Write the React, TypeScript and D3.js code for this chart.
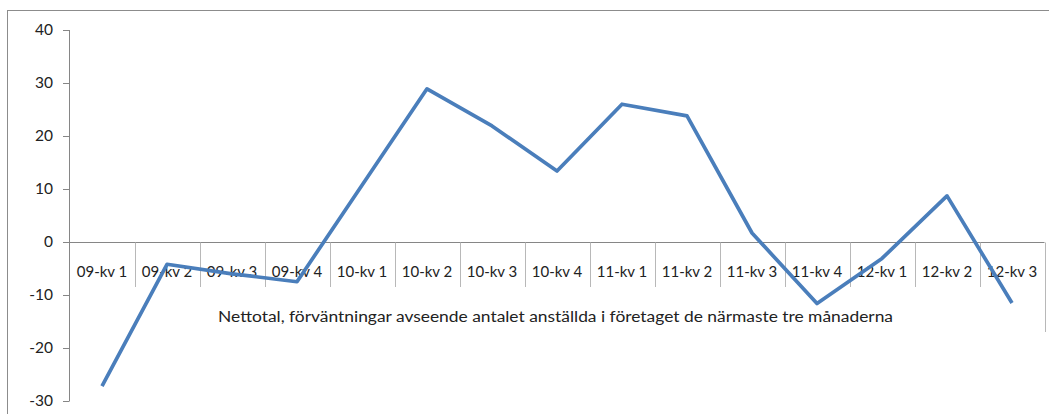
import { useEffect, useRef } from 'react'
import * as d3 from 'd3'

const categories = [
	'09-kv 1', '09-kv 2', '09-kv 3', '09-kv 4',
	'10-kv 1', '10-kv 2', '10-kv 3', '10-kv 4',
	'11-kv 1', '11-kv 2', '11-kv 3', '11-kv 4',
	'12-kv 1', '12-kv 2', '12-kv 3',
]
const values = [-27.2, -4.2, -6.0, -7.5, 10.7, 28.9, 21.9, 13.4, 26.0, 23.8, 1.7, -11.6, -3.1, 8.7, -11.5]
const yTicks = [-30, -20, -10, 0, 10, 20, 30, 40]
const title = 'Nettotal, förväntningar avseende antalet anställda i företaget de närmaste tre månaderna'

const App = () => {
	const svgRef = useRef<SVGSVGElement>(null)

	useEffect(() => {
		const W = 1049
		const H = 414
		const font = 'Lato, "Open Sans", sans-serif'

		const svg = d3.select(svgRef.current)
		svg.selectAll('*').remove()
		svg.attr('width', W).attr('height', H)

		// outer chart frame (only top and left visible)
		svg.append('rect')
			.attr('x', 7.5).attr('y', 10.5)
			.attr('width', W + 20).attr('height', H + 20)
			.attr('fill', 'white')
			.attr('stroke', '#8c8c8c')
			.attr('stroke-width', 1)

		const x = d3.scaleBand().domain(categories).range([69.5, 1044.5])
		const y = d3.scaleLinear().domain([-30, 40]).range([401, 30])

		const g = svg.append('g')

		// y axis
		g.append('line')
			.attr('x1', 69.5).attr('x2', 69.5)
			.attr('y1', y(40)).attr('y2', y(-30))
			.attr('stroke', '#868686')
		g.selectAll('.ytick')
			.data(yTicks)
			.enter()
			.append('line')
			.attr('x1', 63).attr('x2', 69.5)
			.attr('y1', (d) => Math.round(y(d)) + 0.5)
			.attr('y2', (d) => Math.round(y(d)) + 0.5)
			.attr('stroke', '#868686')
		g.selectAll('.ylab')
			.data(yTicks)
			.enter()
			.append('text')
			.attr('x', 53)
			.attr('y', (d) => y(d))
			.attr('dy', '0.35em')
			.attr('text-anchor', 'end')
			.style('font-family', font)
			.style('font-size', '15.5px')
			.style('fill', '#222')
			.text((d) => d)

		// category axis at zero with divider lines
		const y0 = Math.round(y(0)) + 0.5
		g.append('line')
			.attr('x1', 69.5).attr('x2', 1044.5)
			.attr('y1', y0).attr('y2', y0)
			.attr('stroke', '#868686')
		const edges = categories.map((c) => (x(c) as number) + x.bandwidth())
		g.selectAll('.div')
			.data(edges)
			.enter()
			.append('line')
			.attr('x1', (d) => Math.round(d) + 0.5)
			.attr('x2', (d) => Math.round(d) + 0.5)
			.attr('y1', y0)
			.attr('y2', (d, i) => (i === edges.length - 1 ? 332 : 287))
			.attr('stroke', '#b8b8b8')
		g.selectAll('.clab')
			.data(categories)
			.enter()
			.append('text')
			.attr('x', (d) => (x(d) as number) + x.bandwidth() / 2)
			.attr('y', 272)
			.attr('dy', '0.35em')
			.attr('text-anchor', 'middle')
			.style('font-family', font)
			.style('font-size', '15px')
			.style('fill', '#222')
			.text((d) => d)

		g.append('text')
			.attr('x', 555.5)
			.attr('y', 317)
			.attr('dy', '0.35em')
			.attr('text-anchor', 'middle')
			.attr('textLength', 675)
			.attr('lengthAdjust', 'spacingAndGlyphs')
			.style('font-family', font)
			.style('font-size', '15.5px')
			.style('fill', '#222')
			.text(title)

		// series line
		const line = d3.line<number>()
			.x((d, i) => (x(categories[i]) as number) + x.bandwidth() / 2)
			.y((d) => y(d))
		g.append('path')
			.datum(values)
			.attr('d', line)
			.attr('fill', 'none')
			.attr('stroke', '#4a7ebb')
			.attr('stroke-width', 3.7)
			.attr('stroke-linejoin', 'round')
	}, [])

	return (
		<svg ref={svgRef} style={{ position: 'absolute', left: 0, top: 0, display: 'block' }}></svg>
	)
}

export default App
